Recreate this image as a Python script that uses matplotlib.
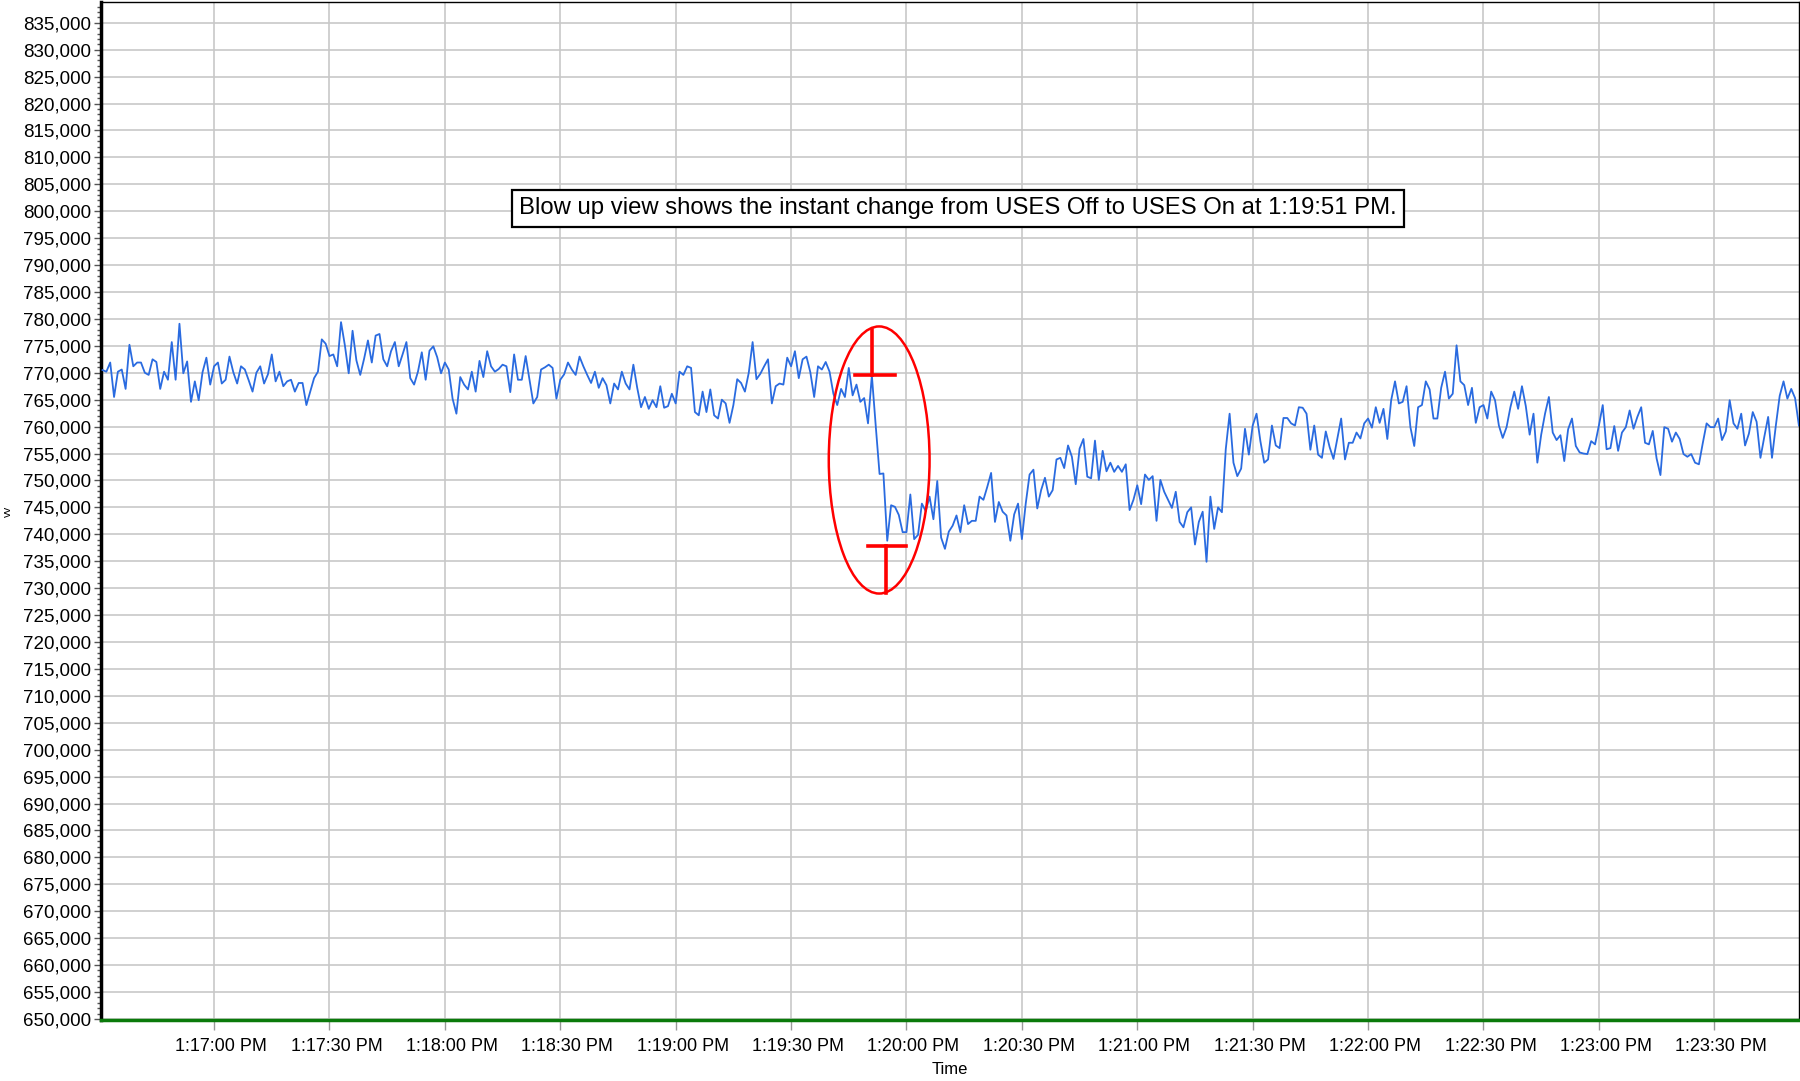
import numpy as np
import pandas as pd
import matplotlib
matplotlib.use("Agg")
import matplotlib.pyplot as plt
import matplotlib.dates as mdates
import matplotlib.transforms as mtransforms
from matplotlib.patches import Ellipse
from matplotlib.ticker import FuncFormatter, MultipleLocator

plt.rcParams['font.family'] = ['Liberation Sans', 'DejaVu Sans']

# vv readings, one per second, in thousands
vv_1716 = [770.5, 770.2, 771.9, 765.5, 770.2, 770.6, 767.0, 775.2, 771.2, 771.9, 771.9, 770.0,
           769.6, 772.5, 772.0, 767.0, 770.2, 768.7, 775.7, 768.7, 779.1, 769.9, 772.1, 764.6,
           768.4, 764.9, 770.1, 772.8, 767.8, 771.2]
vv_1717 = [771.9, 768.0, 768.7, 773.0, 770.1, 768.0, 771.2, 770.6, 768.6, 766.5, 770.0, 771.2,
           768.0, 769.7, 773.4, 768.4, 770.2, 767.5, 768.4, 768.7, 766.5, 768.1, 768.1, 764.0,
           766.5, 769.0, 770.2, 776.2, 775.4, 773.1,
           773.4, 771.2, 779.4, 775.1, 769.9, 777.8, 772.3, 769.6, 772.6, 776.0, 771.9, 776.9,
           777.2, 772.5, 771.2, 774.0, 775.7, 771.2, 773.4, 775.7, 769.0, 767.8, 770.2, 773.8,
           768.7, 774.1, 774.9, 772.9, 769.9, 771.9]
vv_1718 = [770.6, 765.2, 762.4, 769.2, 767.8, 766.9, 770.2, 766.5, 772.2, 769.2, 774.0, 771.2,
           770.2, 770.7, 771.5, 771.2, 766.4, 773.4, 768.7, 768.7, 773.1, 768.7, 764.3, 765.5,
           770.6, 771.0, 771.5, 770.9, 765.2, 768.7,
           769.7, 771.9, 770.6, 769.6, 773.0, 771.2, 769.6, 768.1, 770.2, 767.2, 769.0, 767.7,
           764.3, 768.0, 766.9, 770.2, 768.0, 766.9, 771.5, 767.2, 763.6, 765.5, 763.3, 764.9,
           763.6, 767.5, 763.5, 763.8, 766.1, 764.3]
vv_1719 = [770.2, 769.6, 771.2, 770.9, 762.7, 762.1, 766.5, 762.7, 766.9, 762.1, 761.5, 765.0,
           764.3, 760.7, 764.0, 768.8, 768.1, 766.5, 770.0, 775.7, 768.8, 769.8, 771.2, 772.5,
           764.3, 767.5, 768.0, 767.8, 772.8, 771.2,
           774.0, 769.0, 772.5, 773.0, 770.1, 765.5, 771.2, 770.6, 772.0, 770.2, 766.1, 764.0,
           767.0, 765.5, 770.9, 765.8, 767.8, 764.6, 765.3, 760.6, 769.5, 760.2, 751.2, 751.3,
           738.8, 745.4, 745.1, 743.6, 740.4, 740.4]
vv_1720 = [747.4, 739.1, 739.9, 745.7, 744.3, 747.0, 742.8, 749.9, 739.4, 737.3, 740.5, 741.6,
           743.5, 740.4, 745.4, 741.9, 742.5, 742.5, 747.0, 746.4, 748.8, 751.4, 742.3, 746.0,
           744.2, 743.5, 738.8, 743.7, 745.7, 739.1,
           745.7, 751.1, 752.0, 744.8, 748.2, 750.5, 747.0, 748.2, 753.9, 754.2, 752.3, 756.5,
           754.4, 749.3, 755.9, 757.7, 750.7, 750.4, 757.4, 750.1, 755.5, 751.7, 753.3, 751.6,
           752.7, 751.6, 753.0, 744.5, 746.4, 749.1]
vv_1721 = [745.6, 751.1, 750.1, 750.8, 742.5, 750.1, 747.9, 746.4, 744.9, 747.9, 742.3, 741.3,
           744.1, 745.0, 738.1, 742.3, 744.2, 734.9, 747.0, 741.0, 745.0, 744.1, 755.8, 762.4,
           753.3, 750.8, 752.2, 759.6, 754.8, 760.2,
           762.4, 757.3, 753.3, 753.9, 760.2, 756.5, 756.0, 761.6, 761.6, 760.6, 760.2, 763.6,
           763.5, 762.4, 755.7, 760.2, 754.8, 754.2, 759.1, 756.2, 754.0, 757.8, 761.5, 753.9,
           757.0, 757.0, 758.9, 757.8, 760.6, 761.5]
vv_1722 = [759.8, 763.6, 760.7, 763.3, 757.7, 764.9, 768.4, 764.3, 764.6, 767.5, 759.9, 756.4,
           763.6, 764.0, 768.4, 766.9, 761.5, 761.5, 767.2, 770.2, 765.2, 766.1, 775.1, 768.4,
           767.7, 764.0, 767.2, 760.7, 763.6, 764.0,
           761.5, 766.5, 764.9, 760.2, 757.9, 759.9, 763.6, 766.5, 763.3, 767.5, 763.8, 758.5,
           762.4, 753.3, 758.5, 762.4, 765.5, 758.9, 757.5, 758.4, 753.6, 759.5, 761.5, 756.4,
           755.2, 755.0, 754.9, 757.3, 756.7, 760.2]
vv_1723 = [764.0, 755.8, 756.0, 760.1, 755.5, 758.9, 759.9, 763.0, 759.6, 761.8, 763.6, 757.0,
           756.7, 759.2, 754.1, 751.0, 759.9, 759.6, 757.2, 758.9, 757.7, 754.9, 754.4, 754.9,
           753.3, 753.0, 756.9, 760.6, 759.9, 759.9,
           761.5, 757.5, 759.1, 764.9, 760.6, 759.6, 762.4, 756.5, 758.7, 762.7, 760.9, 754.2,
           758.1, 761.8, 754.2, 760.2, 765.7, 768.4, 765.2, 767.0, 765.3, 760.2]

vv = np.array(vv_1716 + vv_1717 + vv_1718 + vv_1719 + vv_1720 + vv_1721 + vv_1722 + vv_1723) * 1000
times = pd.date_range("2020-01-01 13:16:31", periods=len(vv), freq="s")

# switch annotation (USES Off -> USES On)
switch_time = pd.Timestamp("2020-01-01 13:19:51")
level_off = 769600
level_on = 737800
note = "Blow up view shows the instant change from USES Off to USES On at 1:19:51 PM."

fig = plt.figure(figsize=(18, 10.81), dpi=100)
ax = fig.add_axes([0.0561, 0.0564, 0.9433, 0.942])

ax.plot(times, vv, color="#2a6be0", lw=1.3, zorder=3)

sec = pd.Timedelta(seconds=1)
ax.set_xlim(times[0] - 0.4 * sec, times[-1])
ax.set_ylim(649800, 838900)

ax.yaxis.set_major_locator(MultipleLocator(5000))
ax.yaxis.set_minor_locator(MultipleLocator(1000))
ax.yaxis.set_major_formatter(FuncFormatter(lambda v, p: f"{v:,.0f}"))

ax.xaxis.set_major_locator(mdates.SecondLocator(bysecond=[0, 30]))
def tfmt(x, pos):
    d = mdates.num2date(x)
    return d.strftime("%I:%M:%S %p").lstrip("0")
ax.xaxis.set_major_formatter(FuncFormatter(tfmt))

ax.grid(True, which="major", color="#c8c8c8", lw=1.2, zorder=0)
ax.tick_params(axis="y", which="major", length=5, width=1, color="#555555", labelsize=13.5, pad=2)
ax.tick_params(axis="y", which="minor", length=3, width=1, color="#555555")
ax.tick_params(axis="x", which="major", length=7, width=1, color="#999999", labelsize=13, pad=6)

# x labels sit a little right of their gridline
shift = mtransforms.ScaledTranslation(7 / 100, 0, fig.dpi_scale_trans)
for lab in ax.get_xticklabels():
    lab.set_transform(lab.get_transform() + shift)

for s in ["top", "right"]:
    ax.spines[s].set_color("black")
    ax.spines[s].set_linewidth(1)
ax.spines["left"].set_color("black")
ax.spines["left"].set_linewidth(2.5)
ax.spines["bottom"].set_color("#0a7a0a")
ax.spines["bottom"].set_linewidth(2.5)

ax.set_xlabel("Time", fontsize=12, labelpad=5)
ax.set_ylabel("vv", fontsize=8, labelpad=2)
ax.yaxis.set_label_coords(-0.052, 0.5)

ax.text(0.5047, 0.797, note, transform=ax.transAxes, ha="center", va="center", fontsize=17.2,
        bbox=dict(boxstyle="square,pad=0.3", fc="white", ec="black", lw=1.6), zorder=5)

# red marks around the switch
ell_c = mdates.date2num(switch_time + 1.9 * sec)
ell = Ellipse((ell_c, 753800), width=26.2 / 86400, height=49600,
              fill=False, ec="red", lw=1.8, zorder=4)
ax.add_patch(ell)
ax.plot([switch_time, switch_time], [777900, level_off], color="red", lw=2.6, zorder=4)
ax.plot([switch_time - 4.5 * sec, switch_time + 6.1 * sec], [level_off, level_off],
        color="red", lw=2.6, zorder=4)
ax.plot([switch_time - 1.1 * sec, switch_time + 8.9 * sec], [level_on, level_on],
        color="red", lw=2.6, zorder=4)
ax.plot([switch_time + 3.7 * sec, switch_time + 3.7 * sec], [level_on, 729100],
        color="red", lw=2.6, zorder=4)

fig.savefig("out.png", dpi=100)
